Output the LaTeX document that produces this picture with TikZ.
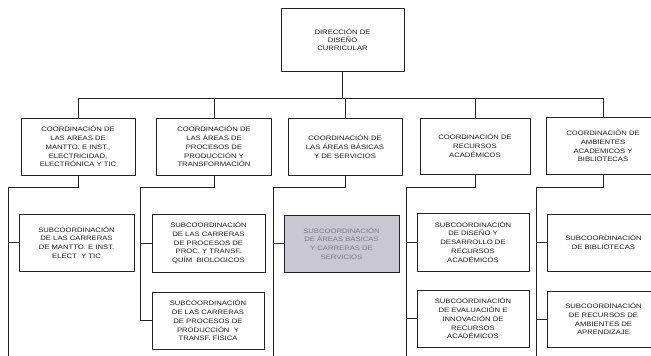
\documentclass[tikz,border=0pt]{standalone}
\usepackage{fontspec}
\setmainfont{Liberation Sans}[FakeStretch=1.2]
\definecolor{ln}{RGB}{35,35,35}
\definecolor{gfill}{RGB}{201,200,210}
\definecolor{gtext}{RGB}{118,118,132}
\begin{document}
\begin{tikzpicture}[x=1pt,y=-1pt,
  orgbox/.style={draw=ln,line width=0.85pt,fill=white,align=center,inner sep=0pt,
    font=\fontsize{6.4}{8.8}\selectfont,text=black!90},
  conn/.style={draw=ln,line width=0.75pt}]
\useasboundingbox (0,0) rectangle (651,356);
\fill[white] (0,0) rectangle (651,356);
% top
\node[orgbox,minimum width=123pt,minimum height=63pt,font=\fontsize{6.4}{8}\selectfont] (top) at (342.5,39.5) {DIRECCIÓN DE\\DISEÑO\\CURRICULAR};
% row 1
\node[orgbox,minimum width=114pt,minimum height=57pt] (b1) at (78,146.5) {COORDINACIÓN DE\\LAS AREAS DE\\MANTTO. E INST.,\\ELECTRICIDAD,\\ELECTRÓNICA Y TIC};
\node[orgbox,minimum width=115pt,minimum height=57pt] (b2) at (214,146.5) {COORDINACIÓN DE\\LAS ÁREAS DE\\PROCESOS DE\\PRODUCCIÓN Y\\TRANSFORMACIÓN};
\node[orgbox,minimum width=114pt,minimum height=57pt] (b3) at (345,146.5) {COORDINACIÓN DE\\LAS ÁREAS BÁSICAS\\Y DE SERVICIOS};
\node[orgbox,minimum width=110pt,minimum height=56pt] (b4) at (475,146) {COORDINACIÓN DE\\RECURSOS\\ACADÉMICOS};
\node[orgbox,minimum width=114pt,minimum height=57pt] (b5) at (603,146) {COORDINACIÓN DE\\AMBIENTES\\ACADEMICOS Y\\BIBLIOTECAS};
% sub boxes
\node[orgbox,minimum width=115pt,minimum height=57pt] (s1) at (76.5,242.5) {SUBCOORDINACIÓN\\DE LAS CARRERAS\\DE MANTTO. E INST.\\ELECT\ \ Y TIC};
\node[orgbox,minimum width=113pt,minimum height=58pt] (s2a) at (208.5,243) {SUBCOORDINACIÓN\\DE LAS CARRERAS\\DE PROCESOS DE\\PROC. Y TRANSF.\\QUÍM\ \ BIOLOGICOS};
\node[orgbox,minimum width=112pt,minimum height=57pt] (s2b) at (208,320.5) {SUBCOORDINACIÓN\\DE LAS CARRERAS\\DE PROCESOS DE\\PRODUCCIÓN\ \ Y\\TRANSF. FÍSICA};
\node[orgbox,fill=gfill,text=gtext,minimum width=115pt,minimum height=57pt] (s3) at (341.5,243.5) {SUBCOORDINACIÓN\\DE ÁREAS BÁSICAS\\Y CARRERAS DE\\SERVICIOS};
\node[orgbox,minimum width=112pt,minimum height=58pt] (s4a) at (473,242) {SUBCOORDINACIÓN\\DE DISEÑO Y\\DESARROLLO DE\\RECURSOS\\ACADÉMICOS};
\node[orgbox,minimum width=112pt,minimum height=57pt] (s4b) at (473,318.5) {SUBCOORDINACIÓN\\DE EVALUACIÓN E\\INNOVACIÓN DE\\RECURSOS\\ACADÉMICOS};
\node[orgbox,minimum width=113pt,minimum height=57pt] (s5a) at (603.5,242.5) {SUBCOORDINACIÓN\\DE BIBLIOTECAS};
\node[orgbox,minimum width=113pt,minimum height=56pt] (s5b) at (603.5,319) {SUBCOORDINACIÓN\\DE RECURSOS DE\\AMBIENTES DE\\APRENDIZAJE};
% bus
\coordinate (bus) at (342.5,98);
\draw[conn] (top.south) -- (bus);
\draw[conn] (bus -| b1.north) -- (bus -| b5.north);
\foreach \n in {b1,b2,b3,b4,b5} \draw[conn] (bus -| \n.north) -- (\n.north);
% spines
\coordinate (sp1) at (8,187);   \coordinate (e1) at (8,356);
\coordinate (sp2) at (140,187);
\coordinate (sp3) at (273,187); \coordinate (e3) at (273,356);
\coordinate (sp4) at (406,187); \coordinate (e4) at (406,356);
\coordinate (sp5) at (536,187); \coordinate (e5) at (536,356);
\draw[conn] (b1.south) |- (sp1) -- (e1);
\draw[conn] (b2.south) |- (sp2) |- (s2b.west);
\draw[conn] (b3.south) |- (sp3) -- (e3);
\draw[conn] (b4.south) |- (sp4) -- (e4);
\draw[conn] (b5.south) |- (sp5) -- (e5);
\draw[conn] (sp1 |- s1.west) -- (s1.west);
\draw[conn] (sp2 |- s2a.west) -- (s2a.west);
\draw[conn] (sp3 |- s3.west) -- (s3.west);
\draw[conn] (sp4 |- s4a.west) -- (s4a.west);
\draw[conn] (sp4 |- s4b.west) -- (s4b.west);
\draw[conn] (sp5 |- s5a.west) -- (s5a.west);
\draw[conn] (sp5 |- s5b.west) -- (s5b.west);
\end{tikzpicture}
\end{document}
